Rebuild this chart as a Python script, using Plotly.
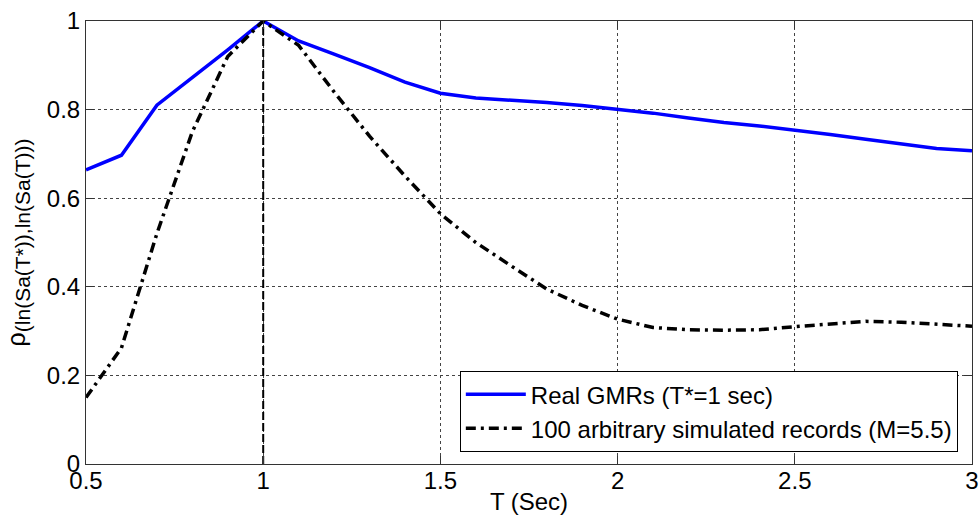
import plotly.graph_objects as go

# Data
T = [0.5, 0.6, 0.7, 0.8, 0.9, 1.0, 1.1, 1.2, 1.3, 1.4, 1.5, 1.6, 1.7, 1.8, 1.9,
     2.0, 2.1, 2.2, 2.3, 2.4, 2.5, 2.6, 2.7, 2.8, 2.9, 3.0]
real_gmrs = [0.664, 0.697, 0.810, 0.872, 0.935, 1.000, 0.955, 0.925, 0.895, 0.862,
             0.837, 0.826, 0.821, 0.816, 0.809, 0.800, 0.792, 0.781, 0.771, 0.763,
             0.754, 0.744, 0.733, 0.722, 0.712, 0.707]
simulated = [0.150, 0.262, 0.520, 0.750, 0.920, 1.000, 0.945, 0.840, 0.740, 0.650,
             0.565, 0.500, 0.447, 0.395, 0.358, 0.327, 0.308, 0.303, 0.302, 0.303,
             0.310, 0.316, 0.322, 0.320, 0.315, 0.311]
t_star = [1.0, 1.0]
t_star_rho = [0.0, 1.0]

x_ticks = [0.5, 1, 1.5, 2, 2.5, 3]
x_tick_labels = ["0.5", "1", "1.5", "2", "2.5", "3"]
y_ticks = [0, 0.2, 0.4, 0.6, 0.8, 1]
y_tick_labels = ["0", "0.2", "0.4", "0.6", "0.8", "1"]

FONT = "Arial, 'Liberation Sans', sans-serif"

fig = go.Figure()
fig.add_trace(go.Scatter(
    x=t_star, y=t_star_rho, mode="lines", showlegend=False,
    line=dict(color="black", width=2, dash="8px,3px"), hoverinfo="skip"))
fig.add_trace(go.Scatter(
    x=T, y=real_gmrs, mode="lines", name="Real GMRs (T*=1 sec)",
    line=dict(color="#0000FF", width=3.5)))
fig.add_trace(go.Scatter(
    x=T, y=simulated, mode="lines", name="100 arbitrary simulated records (M=5.5)",
    line=dict(color="black", width=3.5, dash="10px,5px,3px,5px")))

axis_common = dict(
    showline=True, linecolor="#333333", linewidth=1, mirror="ticks",
    ticks="inside", ticklen=8, tickcolor="#333333",
    showgrid=True, gridcolor="#444444", gridwidth=1, griddash="3px,3px",
    zeroline=False, tickfont=dict(family=FONT, size=24, color="black"),
    automargin=False,
)

fig.update_xaxes(range=[0.5, 3], tickvals=x_ticks, ticktext=x_tick_labels,
                 ticklabelstandoff=-5,
                 title=dict(text="T (Sec)", font=dict(family=FONT, size=24, color="black"),
                            standoff=0),
                 **axis_common)
fig.update_yaxes(range=[0, 1], tickvals=y_ticks, ticktext=y_tick_labels,
                 title=dict(text="ρ<sub><span style='font-size:21px'>(ln(Sa(T*)),ln(Sa(T)))</span></sub>",
                            font=dict(family=FONT, size=25, color="black"),
                            standoff=14),
                 **axis_common)

fig.update_layout(
    width=979, height=519,
    margin=dict(l=86, r=7, t=21, b=55),
    paper_bgcolor="white", plot_bgcolor="white",
    font=dict(family=FONT, color="black"),
    legend=dict(x=0.984, y=0.027, xanchor="right", yanchor="bottom",
                bgcolor="white", bordercolor="black", borderwidth=1,
                font=dict(family=FONT, size=24, color="black"),
                tracegroupgap=0, itemwidth=60),
)

fig.write_html("out.html")
